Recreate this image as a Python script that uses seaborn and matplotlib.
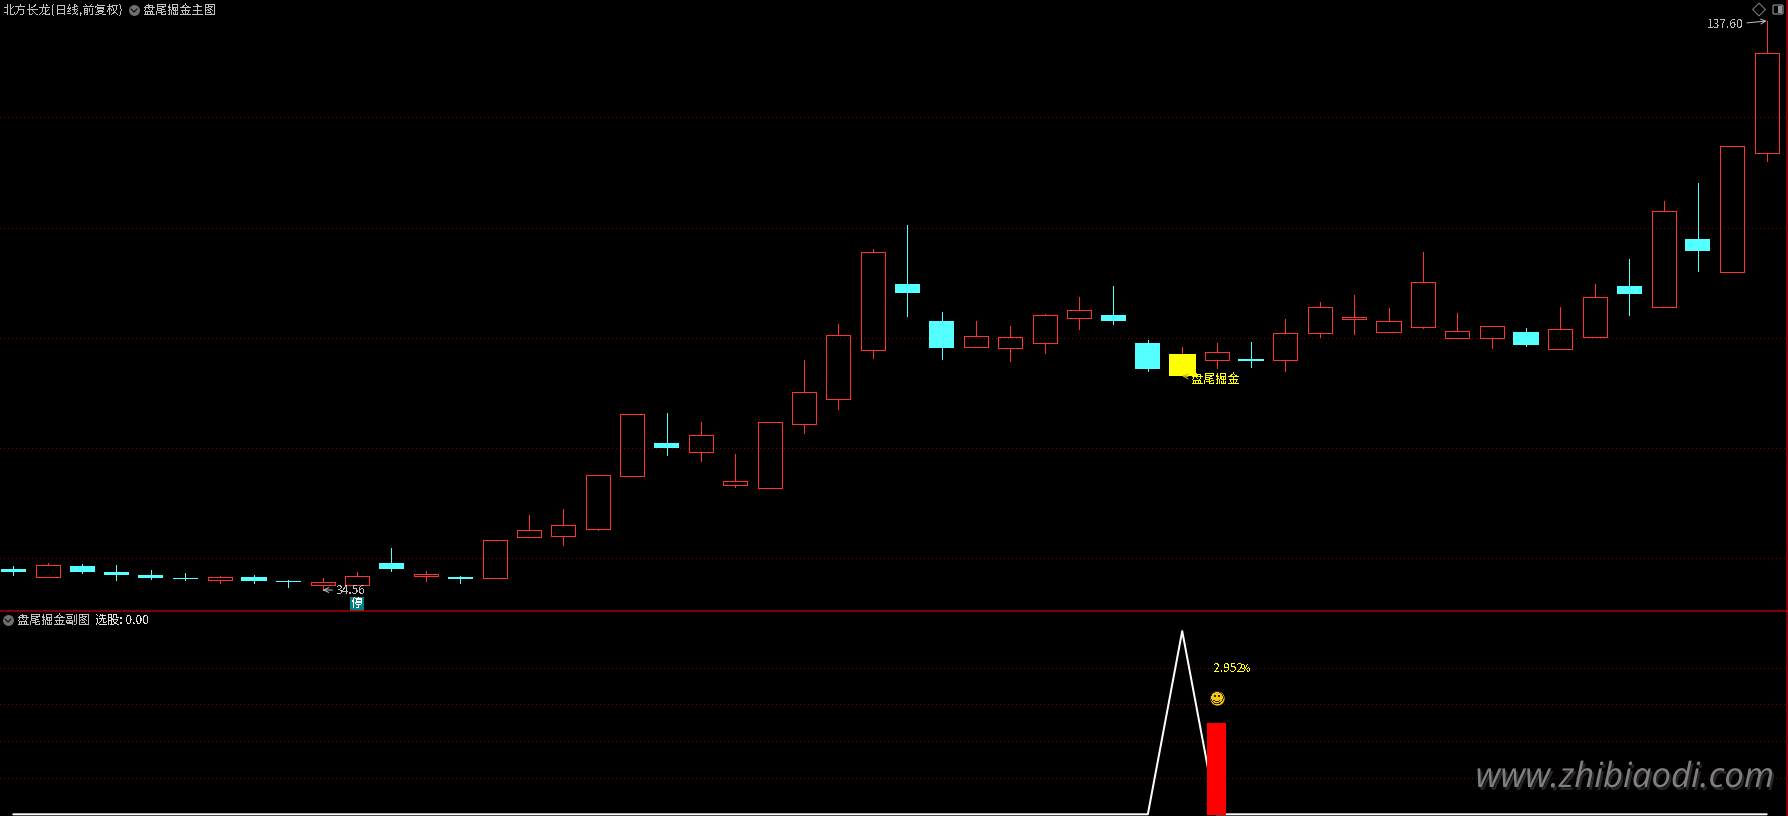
import pandas as pd
import matplotlib.pyplot as plt
import matplotlib.patheffects as pe
from matplotlib.patches import FancyBboxPatch
import seaborn as sns

# price pane
body_top = [38.36,39.03,38.91,37.87,37.28,36.73,36.91,36.91,36.23,36.01,37.10,39.45,37.46,36.91,43.56,45.37,46.28,55.33,66.38,61.18,62.57,54.24,64.93,70.36,80.68,95.71,89.97,83.27,80.50,80.32,84.31,85.21,84.36,79.29,77.30,77.61,76.39,81.05,85.75,84.00,83.22,90.28,81.41,82.31,81.28,81.77,87.56,89.61,103.14,98.12,114.91,131.75]
body_bottom = [37.82,36.97,37.82,37.28,36.73,36.55,36.43,36.19,36.05,35.52,35.52,38.36,37.10,36.55,36.79,44.21,44.39,45.66,55.26,60.27,59.60,53.63,53.09,64.68,69.20,78.08,88.34,78.38,78.62,78.44,79.34,83.87,83.27,74.58,73.31,76.26,76.03,76.26,81.15,83.64,81.34,82.24,80.25,80.25,78.93,78.26,80.43,88.16,85.86,95.95,92.20,113.75]
highs = [38.91,39.50,39.27,39.09,38.18,37.69,37.10,37.28,36.37,36.73,37.82,42.17,38.00,37.10,43.56,48.14,49.23,55.33,66.38,66.61,64.98,59.19,64.93,76.21,82.73,96.31,100.66,84.90,83.27,82.37,84.54,87.62,89.61,79.83,78.56,79.29,79.47,83.64,86.71,87.98,85.63,95.77,84.72,82.31,82.01,85.81,89.97,94.50,105.00,108.26,114.91,137.60]
lows = [37.28,36.97,37.58,36.37,36.55,36.37,35.83,35.83,35.10,34.56,35.52,38.00,36.19,35.83,36.79,44.21,42.71,45.43,55.26,59.01,57.92,53.21,53.09,62.99,67.34,76.57,84.18,76.39,78.62,76.03,77.48,81.82,82.73,74.22,73.31,74.76,74.94,74.22,80.38,80.92,81.34,82.01,80.25,78.38,78.75,78.26,80.43,84.36,85.86,92.33,92.20,112.25]
kinds = ['d','u','d','d','d','d','u','d','d','u','u','d','u','d','u','u','u','u','u','d','u','u','u','u','u','u','d','d','u','u','u','u','d','d','s','u','d','u','u','u','u','u','u','u','d','u','u','d','u','d','u','u']
price_grid = [120.2, 100.2, 80.2, 60.2, 40.3]

# lower pane
signal = [0.032]*34 + [5.89] + [0.032]*17
bar_idx = [35]
bar_val = [2.952]
smile_val = 3.75
sub_grid = [1.18, 2.37, 3.55, 4.70]

RED = '#FF3232'
CYAN = '#54FFFF'
YELLOW = '#FFFF00'
GRID = '#800000'
GREY = '#C0C0C0'
PX = 0.72
FS = 8.7

sns.set_theme(style='dark', rc={
    'figure.facecolor': 'black',
    'axes.facecolor': 'black',
    'text.antialiased': False,
})
plt.rcParams['font.family'] = ['Noto Sans CJK SC', 'DejaVu Sans']

df = pd.DataFrame({
    'idx': range(len(kinds)), 'top': body_top, 'bottom': body_bottom,
    'high': highs, 'low': lows, 'kind': kinds, 'signal': signal,
})
colors = {'u': RED, 'd': CYAN, 's': RED}

fig = plt.figure(figsize=(17.88, 8.16), dpi=100)
ax = fig.add_axes([0, 205 / 816, 1, 611 / 816])
sub = fig.add_axes([0, 0, 1, 204 / 816])

for a in (ax, sub):
    a.set_xlim(-13.3 / 34.38, (1788 - 13.3) / 34.38)
    a.axis('off')
ax.set_ylim(30.76, 141.40)

# price pane
for level in price_grid:
    ax.axhline(level, color=GRID, lw=PX, ls=(0, (1, 3)), antialiased=False, zorder=1)

wick_colors = [colors[k] for k in kinds]
ax.vlines(df['idx'], df['top'], df['high'], colors=wick_colors, lw=PX, zorder=2, antialiased=False)
ax.vlines(df['idx'], df['low'], df['bottom'], colors=wick_colors, lw=PX, zorder=2, antialiased=False)
up = df[df['kind'] == 'u']
ax.bar(up['idx'], up['top'] - up['bottom'], bottom=up['bottom'], width=0.70,
       facecolor='none', edgecolor=RED, linewidth=PX, zorder=3, antialiased=False)
down = df[df['kind'] == 'd']
ax.bar(down['idx'], down['top'] - down['bottom'], bottom=down['bottom'], width=0.73,
       color=CYAN, linewidth=0, zorder=3, antialiased=False)
hit = df[df['kind'] == 's']
ax.bar(hit['idx'], hit['top'] - hit['bottom'], bottom=hit['bottom'], width=0.785,
       color=YELLOW, linewidth=0, zorder=3, antialiased=False)

ax.annotate('34.56', xy=(9, 34.56), xytext=(13 * PX, 0), textcoords='offset points',
            color=GREY, fontsize=FS, ha='left', va='center',
            arrowprops=dict(arrowstyle='->', color=GREY, lw=PX, shrinkA=0, shrinkB=0))
ax.annotate('137.60', xy=(51, 137.60), xytext=(-23 * PX, -4 * PX), textcoords='offset points',
            color=GREY, fontsize=FS, ha='right', va='center',
            arrowprops=dict(arrowstyle='->', color=GREY, lw=PX, shrinkA=0, shrinkB=0))
ax.annotate('盘尾掘金', xy=(34, body_bottom[34]), xytext=(9 * PX, -3 * PX), textcoords='offset points',
            color=YELLOW, fontsize=FS, ha='left', va='center', zorder=5,
            arrowprops=dict(arrowstyle='->', color='#C8B400', lw=PX, shrinkA=0, shrinkB=0))
ax.annotate('停', xy=(10, body_bottom[10]), xytext=(0, -19 * PX), textcoords='offset points',
            color='white', fontsize=FS, ha='center', va='center',
            bbox=dict(boxstyle='square,pad=0.05', facecolor='#008080', edgecolor='none'))

# lower pane
for level in sub_grid:
    sub.axhline(level, color=GRID, lw=PX, ls=(0, (1, 3)), antialiased=False, zorder=1)
sns.lineplot(data=df, x='idx', y='signal', color='white', lw=2 * PX, ax=sub, zorder=2, legend=False)
sns.barplot(x=bar_idx, y=bar_val, native_scale=True, width=0.553, color='#FF0000',
            saturation=1, ax=sub, zorder=3, linewidth=0)
sub.set_xlim(-13.3 / 34.38, (1788 - 13.3) / 34.38)
sub.set_ylim(-0.022, 6.50)
sub.axis('off')

sub.annotate('2.952', xy=(35, 2.952), xytext=(-3.6 * PX, 54 * PX), textcoords='offset points',
             color=YELLOW, fontsize=FS, ha='left', va='center')
sub.annotate('%', xy=(35, 2.952), xytext=(24 * PX, 54 * PX), textcoords='offset points',
             color=YELLOW, fontsize=7.5, ha='left', va='center')
sub.scatter(bar_idx, [smile_val], s=105, color='#F5C518', linewidths=0, zorder=4)
sub.text(bar_idx[0], smile_val, '☺', color='#3A2A00', fontsize=11, family='DejaVu Sans',
         ha='center', va='center', zorder=5)

# window furniture, in pixels
top = fig.add_axes([0, 0, 1, 1], facecolor='none')
top.set_xlim(0, 1788)
top.set_ylim(816, 0)
top.axis('off')
top.axhline(611, color='#B00000', lw=1.5 * PX)
top.axvline(1787, color='#A00000', lw=1.5 * PX)

top.text(3, 10, '北方长龙(日线,前复权)', color=GREY, fontsize=FS, va='center')
top.text(143, 10, '盘尾掘金主图', color=GREY, fontsize=FS, va='center')
top.text(17, 620, '盘尾掘金副图', color=GREY, fontsize=FS, va='center')
top.text(95, 620, '选股: 0.00', color='#E0E0E0', fontsize=FS, va='center')
for x, y in [(134, 10), (8, 620)]:
    top.scatter([x], [y], s=62, color='#707070', linewidths=0)
    top.plot([x - 3, x, x + 3], [y - 1, y + 2, y - 1], color='#101010', lw=1.2 * PX)

top.scatter([1759], [9.5], marker='D', s=42, facecolor='none', edgecolor='#808080', linewidths=PX)
top.add_patch(FancyBboxPatch((1773, 5), 10, 9, boxstyle='round,pad=0,rounding_size=1.5',
                             facecolor='none', edgecolor='#909090', lw=PX * 1.2))
top.fill_between([1778, 1782], 6, 13, color='#909090', linewidth=0)

top.text(1625, 778, 'www.zhibiaodi.com', color='#808080', fontsize=25, style='italic',
         family='Open Sans', ha='center', va='center', antialiased=True,
         path_effects=[pe.SimplePatchShadow(offset=(1.5, -2), shadow_rgbFace='#404040', alpha=0.6),
                       pe.Normal()])

fig.savefig('out.png', dpi=100, facecolor='black')
plt.close()
